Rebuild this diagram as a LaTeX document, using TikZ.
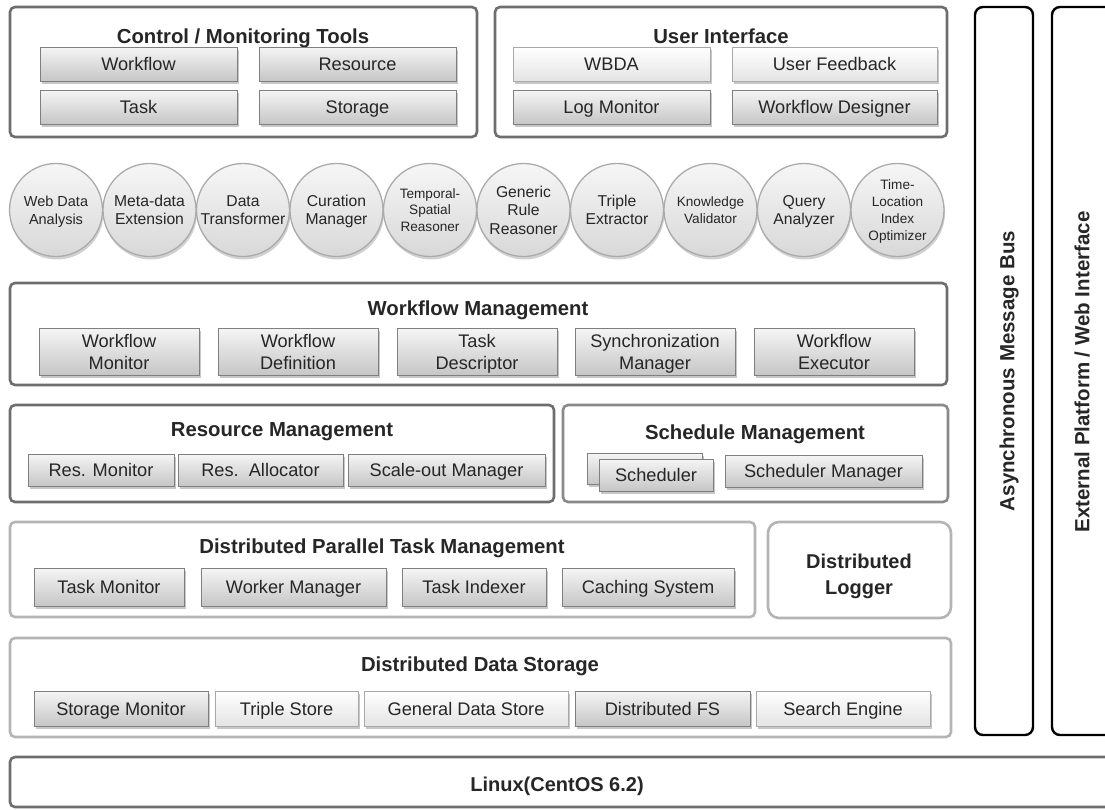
\documentclass[tikz,border=0pt]{standalone}
\usepackage{fontspec}
\setmainfont{Liberation Sans}
\usetikzlibrary{shadows}
\definecolor{dk}{HTML}{6E6E6E}
\definecolor{md}{HTML}{8A8A8A}
\definecolor{lt}{HTML}{B4B4B4}
\definecolor{txt}{HTML}{262626}
\definecolor{btop}{HTML}{F5F5F5}
\definecolor{bbot}{HTML}{C6C6C6}
\definecolor{lbtop}{HTML}{FFFFFF}
\definecolor{lbbot}{HTML}{E4E4E4}
\definecolor{bedge}{HTML}{7F7F7F}
\definecolor{lbedge}{HTML}{A8A8A8}
\definecolor{ctop}{HTML}{F6F6F6}
\definecolor{cbot}{HTML}{D8D8D8}
\definecolor{cedge}{HTML}{ABABAB}
\newcommand\mybox[7]{\node[#1, minimum width={(#4)-(#2)}, minimum height={(#5)-(#3)}] (#6) at ({((#2)+(#4))/2},{((#3)+(#5))/2}) {#7};}
\begin{document}
\begin{tikzpicture}[x=1pt,y=-1pt,
  outer/.style={draw=dk, line width=2.6pt, rounded corners=5pt, fill=white, inner sep=0pt},
  outermd/.style={outer, draw=md},
  outerlt/.style={outer, draw=lt},
  bar/.style={draw=black, line width=2.4pt, rounded corners=8pt, fill=white, inner sep=0pt},
  btn/.style={draw=bedge, line width=0.9pt, top color=btop, bottom color=bbot, inner sep=0pt, align=center,
     text=txt, font=\fontsize{18.2}{22}\selectfont, text depth=0pt,
     drop shadow={shadow xshift=1.5pt, shadow yshift=-2.5pt, fill=black, opacity=0.22}},
  btnl/.style={btn, draw=lbedge, top color=lbtop, bottom color=lbbot},
  circ/.style={circle, draw=cedge, line width=1.3pt, top color=ctop, bottom color=cbot, minimum size=93pt, inner sep=0pt,
     align=center, text=txt, font=\fontsize{15.7}{18.5}\selectfont, text depth=0pt,
     drop shadow={shadow xshift=1pt, shadow yshift=-3pt, fill=black, opacity=0.18}},
  csmall/.style={font=\fontsize{13.6}{16.8}\selectfont},
  ttl/.style={font=\bfseries\fontsize{20.3}{25}\selectfont, text=txt, inner sep=0pt, align=center, text depth=0pt}
]
\useasboundingbox (0,0) rectangle (1105,809);
\fill[white] (0,0) rectangle (1105,809);

% outer frames
\mybox{outer}{10}{7}{477}{137}{ctrl}{}
\mybox{outer}{495}{7}{947}{137}{ui}{}
\mybox{outer}{10}{283}{947}{385}{wm}{}
\mybox{outer}{10}{405}{554}{502}{rm}{}
\mybox{outermd}{563}{405}{948}{502}{sm}{}
\mybox{outerlt}{10}{522}{755}{617}{dp}{}
\mybox{outerlt, rounded corners=11pt}{768}{522}{951}{618}{dl}{}
\mybox{outerlt}{10}{638}{951}{737}{ds}{}
\mybox{outer}{10}{757}{1118}{807}{lx}{}
\mybox{bar}{975}{7}{1033}{735}{bus}{}
\mybox{bar}{1052}{7}{1118}{735}{ext}{}

% titles
\node[ttl] (ctrlT) at (243,36) {Control / Monitoring Tools};
\node[ttl] (uiT) at (721,36) {User Interface};
\node[ttl] (wmT) at (478,308) {Workflow Management};
\node[ttl] (rmT) at (282,430) {Resource Management};
\node[ttl] (smT) at (755,432) {Schedule Management};
\node[ttl] (dpT) at (382,546) {Distributed Parallel Task Management};
\node[ttl, font=\bfseries\fontsize{20}{26}\selectfont] (dlT) at (859,574) {Distributed\\Logger};
\node[ttl] (dsT) at (480,664) {Distributed Data Storage};
\node[ttl, font=\bfseries\fontsize{20}{25}\selectfont] (lxT) at (557,784) {Linux(CentOS 6.2)};
\node[ttl, rotate=90, font=\bfseries\fontsize{20.5}{24}\selectfont] (busT) at (1007,371) {Asynchronous Message Bus};
\node[ttl, rotate=90, font=\bfseries\fontsize{20.5}{24}\selectfont] (extT) at (1082,372) {External Platform / Web Interface};

% control / monitoring
\mybox{btn}{40}{47}{237}{81}{cw}{Workflow}
\mybox{btn}{259}{47}{456}{81}{cr}{Resource}
\mybox{btn}{40}{90}{237}{124}{ct}{Task}
\mybox{btn}{259}{90}{456}{124}{cs}{Storage}
% user interface
\mybox{btnl}{513}{47}{710}{81}{uw}{WBDA}
\mybox{btnl}{732}{47}{937}{81}{uf}{User Feedback}
\mybox{btn}{513}{90}{710}{124}{ul}{Log Monitor}
\mybox{btn}{732}{90}{937}{124}{ud}{Workflow Designer}

% circles
\node[circ, font=\fontsize{14.5}{18}\selectfont] (c1) at (56,210) {Web Data\\Analysis};
\node[circ] (c2) at (149.5,210) {Meta-data\\Extension};
\node[circ] (c3) at (243,210) {Data\\Transformer};
\node[circ] (c4) at (336.5,210) {Curation\\Manager};
\node[circ, csmall] (c5) at (430,210) {Temporal-\\Spatial\\Reasoner};
\node[circ] (c6) at (523.5,210) {Generic\\Rule\\Reasoner};
\node[circ] (c7) at (617,210) {Triple\\Extractor};
\node[circ, csmall] (c8) at (710.5,210) {Knowledge\\Validator};
\node[circ] (c9) at (804,210) {Query\\Analyzer};
\node[circ, csmall] (c10) at (897.5,210) {Time-\\Location\\Index\\Optimizer};

% workflow management
\mybox{btn}{39}{328}{199}{375}{w1}{Workflow\\Monitor}
\mybox{btn}{218}{328}{378}{375}{w2}{Workflow\\Definition}
\mybox{btn}{397}{328}{557}{375}{w3}{Task\\Descriptor}
\mybox{btn}{575}{328}{735}{375}{w4}{Synchronization\\Manager}
\mybox{btn}{754}{328}{914}{375}{w5}{Workflow\\Executor}

% resource management
\mybox{btn}{28}{454}{174}{486}{r1}{Res. Monitor}
\mybox{btn}{178}{454}{343}{486}{r2}{Res.\ \ Allocator}
\mybox{btn}{348}{454}{545}{486}{r3}{Scale-out Manager}

% schedule management
\mybox{btn}{587}{453}{702}{484}{s0}{}
\mybox{btn}{599}{459}{713}{491}{s1}{Scheduler}
\mybox{btn}{725}{455}{922}{487}{s2}{Scheduler Manager}

% distributed parallel task management
\mybox{btn}{34}{568}{184}{606}{p1}{Task Monitor}
\mybox{btn}{201}{568}{386}{606}{p2}{Worker Manager}
\mybox{btn}{402}{568}{546}{606}{p3}{Task Indexer}
\mybox{btn}{562}{568}{734}{606}{p4}{Caching System}

% distributed data storage
\mybox{btn}{34}{691}{208}{726}{d1}{Storage Monitor}
\mybox{btnl}{215}{691}{358}{726}{d2}{Triple Store}
\mybox{btnl}{364}{691}{568}{726}{d3}{General Data Store}
\mybox{btn}{575}{691}{750}{726}{d4}{Distributed FS}
\mybox{btnl}{756}{691}{930}{726}{d5}{Search Engine}
\end{tikzpicture}
\end{document}
